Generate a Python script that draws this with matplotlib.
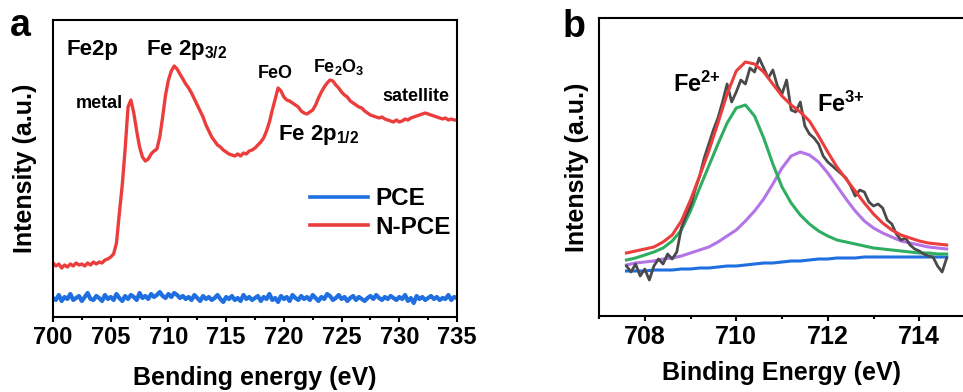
import numpy as np
import matplotlib
matplotlib.use("Agg")
import matplotlib.pyplot as plt
from matplotlib.ticker import MultipleLocator

plt.rcParams["font.family"] = "Liberation Sans"
plt.rcParams["font.weight"] = "bold"
plt.rcParams["axes.labelweight"] = "bold"
plt.rcParams["mathtext.fontset"] = "custom"
plt.rcParams["mathtext.rm"] = "Liberation Sans:bold"
plt.rcParams["mathtext.it"] = "Liberation Sans:bold"
plt.rcParams["mathtext.bf"] = "Liberation Sans:bold"
plt.rcParams["mathtext.default"] = "bf"

# ---- survey spectra (a), 700-735 eV in 0.25 eV steps ----
survey_start, survey_step = 700.0, 0.25
npce = [54, 51, 53, 49, 52, 50, 53, 51, 54, 52, 53, 51, 54, 52, 55, 53, 55, 54, 57, 58,
        60, 63, 74, 104, 132, 168, 210, 217, 204, 186, 170, 160, 156, 158, 163, 166, 168, 180, 200, 222,
        237, 246, 251, 248, 243, 238, 233, 229, 224, 218, 212, 206, 200, 192, 186, 180, 176, 172, 170, 167,
        165, 163, 162, 161, 163, 161, 164, 163, 166, 167, 169, 172, 175, 179, 186, 195, 207, 218, 229, 226,
        220, 217, 216, 214, 212, 210, 206, 204, 203, 205, 207, 212, 219, 225, 230, 234, 237, 236, 232, 229,
        225, 222, 220, 216, 214, 212, 210, 209, 206, 204, 202, 201, 200, 199, 200, 198, 197, 196, 195, 197,
        195, 196, 198, 197, 199, 200, 201, 202, 203, 204, 203, 202, 201, 200, 199, 198, 199, 197, 198, 197,
        197]
pce = [19, 17, 22, 16, 20, 18, 23, 17, 19, 21, 16, 20, 24, 18, 17, 21, 19, 16, 22, 18,
       20, 17, 23, 19, 16, 21, 18, 22, 20, 17, 24, 19, 21, 18, 23, 20, 22, 25, 21, 19,
       23, 20, 24, 22, 19, 21, 18, 20, 17, 22, 19, 16, 21, 18, 20, 17, 19, 22, 18, 15,
       20, 18, 21, 17, 19, 16, 22, 18, 20, 17, 19, 21, 16, 20, 18, 23, 17, 19, 15, 21,
       18, 20, 16, 22, 19, 17, 21, 18, 20, 17, 22, 19, 16, 20, 18, 23, 21, 17, 19, 22,
       18, 20, 16, 19, 21, 17, 20, 18, 16, 19, 21, 18, 22, 19, 17, 20, 18, 21, 19, 17,
       20, 18, 22, 16, 19, 14, 21, 18, 20, 17, 19, 21, 18, 20, 17, 19, 18, 22, 17, 20,
       19]

# ---- Fe 2p3/2 high resolution (b) ----
raw_start, raw_step = 707.6, 0.1
fe_raw = [50, 44, 52, 40, 47, 36, 50, 57, 52, 62,
          57, 64, 88, 100, 110, 126, 140, 158, 172, 186,
          198, 214, 232, 214, 224, 236, 232, 248, 244, 258,
          248, 238, 246, 230, 222, 236, 206, 204, 214, 190,
          182, 178, 172, 160, 154, 150, 146, 142, 138, 130,
          120, 126, 124, 114, 110, 112, 108, 96, 92, 82,
          76, 78, 71, 67, 65, 62, 60, 59, 50, 44,
          58]

fit_start, fit_step = 707.6, 0.2
fe2_fit = [56, 58, 61, 64, 68, 75, 86, 105, 128, 150,
           172, 193, 208, 211, 200, 178, 152, 129, 113, 101,
           92, 85, 80, 76, 74, 72, 70, 68, 67, 66,
           65, 64, 63, 63, 62, 62]
fe3_fit = [51, 53, 54, 55, 57, 58, 60, 63, 66, 69,
           74, 80, 86, 95, 105, 117, 132, 148, 160, 164,
           161, 154, 143, 130, 117, 105, 95, 88, 83, 79,
           75, 73, 71, 69, 68, 67]
envelope = [63, 65, 67, 69, 74, 81, 95, 116, 140, 165,
            193, 222, 245, 254, 252, 244, 232, 220, 211, 204,
            195, 180, 164, 149, 137, 125, 113, 102, 93, 86,
            81, 78, 75, 73, 72, 71]
background = [45, 45, 45, 46, 46, 46, 47, 47, 48, 48,
              49, 50, 50, 51, 52, 53, 53, 54, 55, 55,
              56, 57, 57, 58, 58, 58, 59, 59, 59, 59,
              59, 59, 59, 59, 59, 59]

RED = "#ec3d3d"
BLUE = "#1f6fe0"
GREEN = "#2fae62"
PURPLE = "#b274e6"
GRAY = "#4a4a4a"

e_survey = survey_start + survey_step * np.arange(len(npce))
e_raw = raw_start + raw_step * np.arange(len(fe_raw))
e_fit = fit_start + fit_step * np.arange(len(envelope))


def style_axes(ax, tick_size):
    for sp in ax.spines.values():
        sp.set_linewidth(1.5)
    ax.set_yticks([])
    ax.tick_params(axis="x", which="major", direction="out", length=3.5, width=1.5,
                   labelsize=tick_size, pad=3)
    ax.tick_params(axis="x", which="minor", direction="out", length=2.5, width=1.5)


fig = plt.figure(figsize=(9.63, 3.92), dpi=100)

# (a) survey
ax1 = fig.add_axes([53 / 963, 75 / 392, 404 / 963, 297 / 392])
ax1.plot(e_survey, pce, color=BLUE, lw=3.0, label="PCE")
ax1.plot(e_survey, npce, color=RED, lw=2.4, label="N-PCE")
ax1.set_xlim(700, 735)
ax1.set_ylim(0, 297)
ax1.xaxis.set_major_locator(MultipleLocator(5))
ax1.xaxis.set_minor_locator(MultipleLocator(2.5))
style_axes(ax1, 17)
ax1.set_xlabel("Bending energy (eV)", fontsize=18)
ax1.xaxis.label.set_va("center")
ax1.xaxis.set_label_coords(0.5, -0.205)
ax1.set_ylabel("Intensity (a.u.)", fontsize=18)
ax1.yaxis.label.set_va("center")
ax1.yaxis.set_label_coords(-0.069, 0.5)

ax1.text(701.2, 262, "Fe2p", fontsize=16, va="baseline")
ax1.text(708.05, 262, "Fe 2p$_{3/2}$", fontsize=16, va="baseline")
ax1.text(702.0, 209, "metal", fontsize=13, va="baseline")
ax1.text(717.7, 239, "FeO", fontsize=13, va="baseline")
ax1.text(722.55, 245, "Fe$_2$O$_3$", fontsize=13, va="baseline")
ax1.text(728.5, 216, "satellite", fontsize=13, va="baseline")
ax1.text(719.5, 177, "Fe 2p$_{1/2}$", fontsize=16, va="baseline")

leg = ax1.legend(loc="center left", bbox_to_anchor=(0.636, 0.35), frameon=False,
                 fontsize=17.5, handlelength=2.4, handletextpad=0.3, labelspacing=0.23,
                 borderpad=0, borderaxespad=0)
for line in leg.get_lines():
    line.set_linewidth(2.6)

# (b) Fe 2p3/2 fit
ax2 = fig.add_axes([599 / 963, 76 / 392, 366 / 963, 298 / 392])
ax2.plot(e_fit, background, color=BLUE, lw=2.2)
ax2.plot(e_fit, fe3_fit, color=PURPLE, lw=2.2)
ax2.plot(e_fit, fe2_fit, color=GREEN, lw=2.2)
ax2.plot(e_raw, fe_raw, color=GRAY, lw=2.0)
ax2.plot(e_fit, envelope, color=RED, lw=2.2)
ax2.set_xlim(707, 715)
ax2.set_ylim(0, 298)
ax2.xaxis.set_major_locator(MultipleLocator(2))
ax2.xaxis.set_minor_locator(MultipleLocator(1))
style_axes(ax2, 18)
ax2.spines["right"].set_visible(False)
ax2.set_xlabel("Binding Energy (eV)", fontsize=18)
ax2.xaxis.label.set_va("center")
ax2.xaxis.set_label_coords(0.5, -0.19)
ax2.set_ylabel("Intensity (a.u.)", fontsize=18)
ax2.yaxis.label.set_va("center")
ax2.yaxis.set_label_coords(-0.060, 0.5)

ax2.text(708.61, 224, "Fe$^{2{+}}$", fontsize=17, va="baseline")
ax2.text(711.76, 204, "Fe$^{3{+}}$", fontsize=17, va="baseline")

fig.text(10 / 963, 1 - 36 / 392, "a", fontsize=27, va="baseline")
fig.text(563 / 963, 1 - 37 / 392, "b", fontsize=27, va="baseline")

fig.savefig("out.png", dpi=100)
